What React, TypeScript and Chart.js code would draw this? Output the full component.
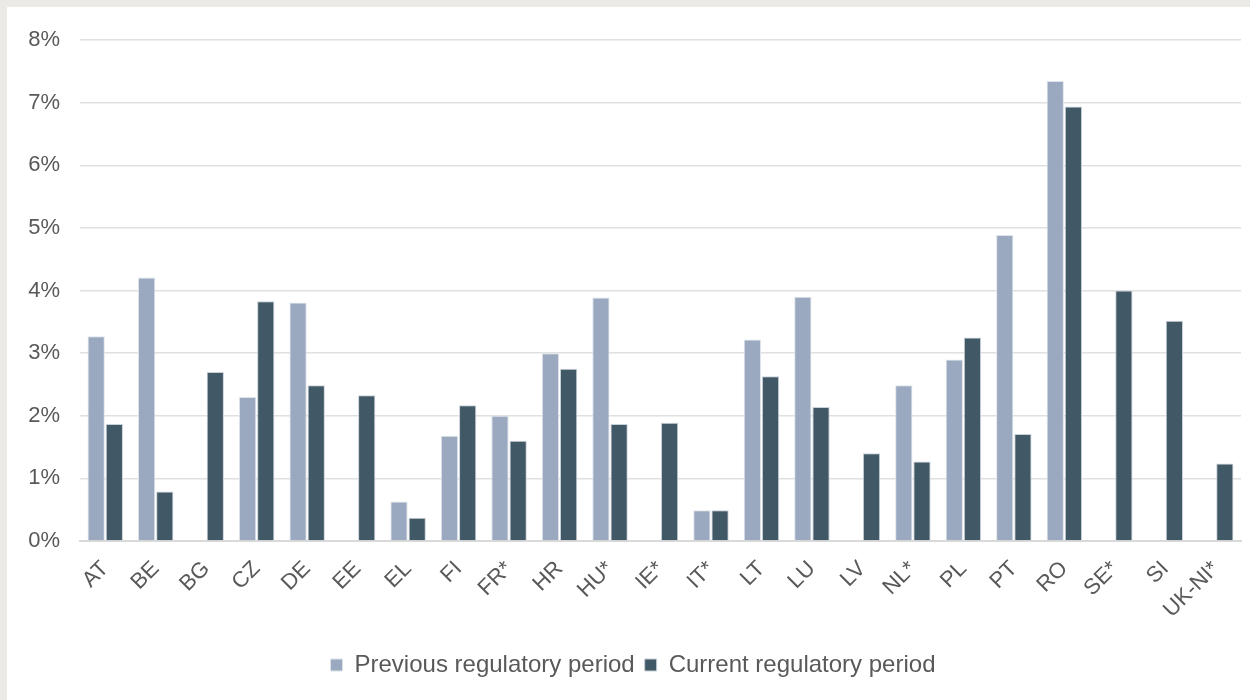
import React, { useEffect, useRef } from "react";
import { Chart, registerables } from "chart.js";

Chart.register(...registerables);

const categories = ["AT", "BE", "BG", "CZ", "DE", "EE", "EL", "FI", "FR*", "HR", "HU*", "IE*", "IT*", "LT", "LU", "LV", "NL*", "PL", "PT", "RO", "SE*", "SI", "UK-NI*"];
const previousPeriod = [3.27, 4.21, null, 2.3, 3.81, null, 0.63, 1.68, 2.0, 3.0, 3.89, null, 0.49, 3.22, 3.9, null, 2.49, 2.9, 4.89, 7.35, null, null, null];
const currentPeriod = [1.87, 0.79, 2.7, 3.83, 2.49, 2.33, 0.37, 2.17, 1.6, 2.75, 1.87, 1.89, 0.49, 2.63, 2.14, 1.4, 1.27, 3.25, 1.71, 6.94, 4.0, 3.52, 1.24];
const seriesLabels = ["Previous regulatory period", "Current regulatory period"];
const yTicks = [0, 1, 2, 3, 4, 5, 6, 7, 8];

const FONT = "'Liberation Sans', Arial, sans-serif";
const TEXT = "#595959";

export default function App() {
  const ref = useRef<HTMLCanvasElement>(null);

  useEffect(() => {
    document.body.style.margin = "0";
    const ctx = ref.current!;
    const chart = new Chart(ctx, {
      type: "bar",
      data: {
        labels: categories,
        datasets: [
          {
            label: seriesLabels[0],
            data: previousPeriod,
            backgroundColor: "#9aa9bf",
            borderColor: "#dde3ea",
            borderWidth: 1,
            categoryPercentage: 0.72,
            barPercentage: 0.95,
          },
          {
            label: seriesLabels[1],
            data: currentPeriod,
            backgroundColor: "#415867",
            borderColor: "#c9d1d8",
            borderWidth: 1,
            categoryPercentage: 0.72,
            barPercentage: 0.95,
          },
        ],
      },
      options: {
        animation: false,
        responsive: false,
        maintainAspectRatio: false,
        layout: { padding: { top: 30, right: 9, bottom: 13, left: 18 } },
        plugins: {
          tooltip: { enabled: false },
          legend: {
            position: "bottom",
            labels: {
              boxWidth: 12,
              boxHeight: 12,
              padding: 10,
              color: TEXT,
              font: { family: FONT, size: 24 },
            },
          },
        },
        scales: {
          x: {
            grid: { display: false, drawTicks: false },
            border: { display: true, color: "#d9d9d9", width: 2 },
            ticks: {
              color: TEXT,
              font: { family: FONT, size: 22 },
              minRotation: 45,
              maxRotation: 45,
              padding: 15,
              autoSkip: false,
            },
            afterFit: (s: any) => {
              s.height = 102;
            },
          },
          y: {
            min: 0,
            max: 8,
            afterBuildTicks: (s: any) => {
              s.ticks = yTicks.map((v) => ({ value: v }));
            },
            grid: { color: "#e0e0e0", lineWidth: 1.5, drawTicks: false },
            border: { display: false },
            ticks: {
              color: TEXT,
              font: { family: FONT, size: 22 },
              padding: 20,
              callback: (v: any) => v + "%",
            },
            afterFit: (s: any) => {
              s.width = 55;
            },
          },
        },
      },
    });
    return () => chart.destroy();
  }, []);

  return (
    <div style={{ width: 1250, height: 700, background: "#ebeae6", position: "relative", overflow: "hidden" }}>
      <div style={{ position: "absolute", left: 7, top: 7, width: 1243, height: 693, background: "#ffffff" }}>
        <canvas ref={ref} width={1243} height={693} style={{ display: "block" }} />
      </div>
    </div>
  );
}
